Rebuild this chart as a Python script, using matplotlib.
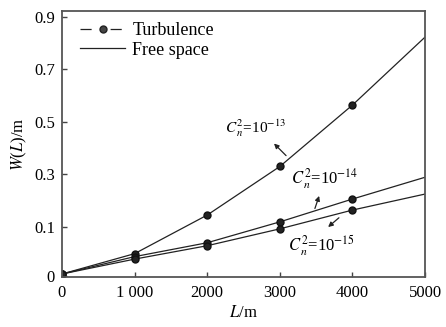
import numpy as np
import matplotlib.pyplot as plt
from matplotlib.lines import Line2D

plt.rcParams['font.family'] = ['Liberation Serif', 'DejaVu Serif']
plt.rcParams['mathtext.fontset'] = 'stix'

# data
L = [0, 1000, 2000, 3000, 4000, 5000]
w13 = [0.005, 0.046, 0.145, 0.330, 0.564, 0.823]
w14 = [0.005, 0.040, 0.068, 0.119, 0.206, 0.289]
w15 = [0.005, 0.035, 0.062, 0.096, 0.164, 0.225]

xticks = [0, 1000, 2000, 3000, 4000, 5000]
xticklabels = ["0", "1 000", "2000", "3000", "4000", "5000"]
yticks = [0, 0.1, 0.3, 0.5, 0.7, 0.9]
yticklabels = ["0", "0.1", "0.3", "0.5", "0.7", "0.9"]

# the y axis in the original is stretched below 0.1
r = 1.89


def fwd(y):
    y = np.asarray(y, dtype=float)
    return np.where(y < 0.1, y * r, 0.1 * r + (y - 0.1))


def inv(t):
    t = np.asarray(t, dtype=float)
    return np.where(t < 0.1 * r, t / r, t - 0.1 * r + 0.1)


fig = plt.figure(figsize=(4.46, 3.27), dpi=100)
ax = fig.add_axes([0.139, 0.153, 0.814, 0.813])
ax.set_yscale('function', functions=(fwd, inv))

for w in (w13, w14, w15):
    ax.plot(L, w, color='#222222', lw=0.9, marker='o', ms=5,
            mfc='#222222', mec='#111111', markevery=[0, 1, 2, 3, 4])

ax.set_xlim(0, 5000)
ax.set_ylim(-0.001, 0.922)
ax.set_xticks(xticks)
ax.set_xticklabels(xticklabels)
ax.set_yticks(yticks)
ax.set_yticklabels(yticklabels)
ax.minorticks_off()
ax.tick_params(direction='in', length=3.5, width=1, labelsize=12, color='#444444')
ax.tick_params(axis='x', pad=6)
ax.tick_params(axis='y', pad=5)
for s in ax.spines.values():
    s.set_linewidth(1.3)
    s.set_color('#555555')

ax.set_xlabel(r"$L$/m", fontsize=12, labelpad=3)
ax.set_ylabel(r"$W$($L$)/m", fontsize=12, labelpad=4)

# labels with arrows
ax.text(2245, 0.477, r"$C^2_{\,n}$=10$^{-13}$", fontsize=11, va='center')
ax.annotate("", xy=(2893, 0.425), xytext=(3113, 0.364),
            arrowprops=dict(arrowstyle='-|>', color='#222222', lw=0.9,
                            mutation_scale=7))
ax.text(3154, 0.285, r"$C^2_{\,n}$=10$^{-14}$", fontsize=12, va='center')
ax.annotate("", xy=(3554, 0.228), xytext=(3471, 0.160),
            arrowprops=dict(arrowstyle='-|>', color='#222222', lw=0.9,
                            mutation_scale=7))
ax.text(3113, 0.062, r"$C^2_{\,n}$=10$^{-15}$", fontsize=12, va='center')
ax.annotate("", xy=(3636, 0.096), xytext=(3843, 0.1415),
            arrowprops=dict(arrowstyle='-|>', color='#222222', lw=0.9,
                            mutation_scale=7))

handles = [Line2D([], [], color='#222222', lw=0.9, ls=(0, (8.9, 15.2)),
                  marker='o', ms=5, mfc='#444444', mec='#222222'),
           Line2D([], [], color='#222222', lw=0.9)]
ax.legend(handles, ["Turbulence", "Free space"], loc='upper left',
          frameon=False, fontsize=13, handlelength=2.5, handletextpad=0.4,
          labelspacing=0.15, borderaxespad=0.2, bbox_to_anchor=(0.02, 1.0))

fig.savefig("out.png", dpi=100)
